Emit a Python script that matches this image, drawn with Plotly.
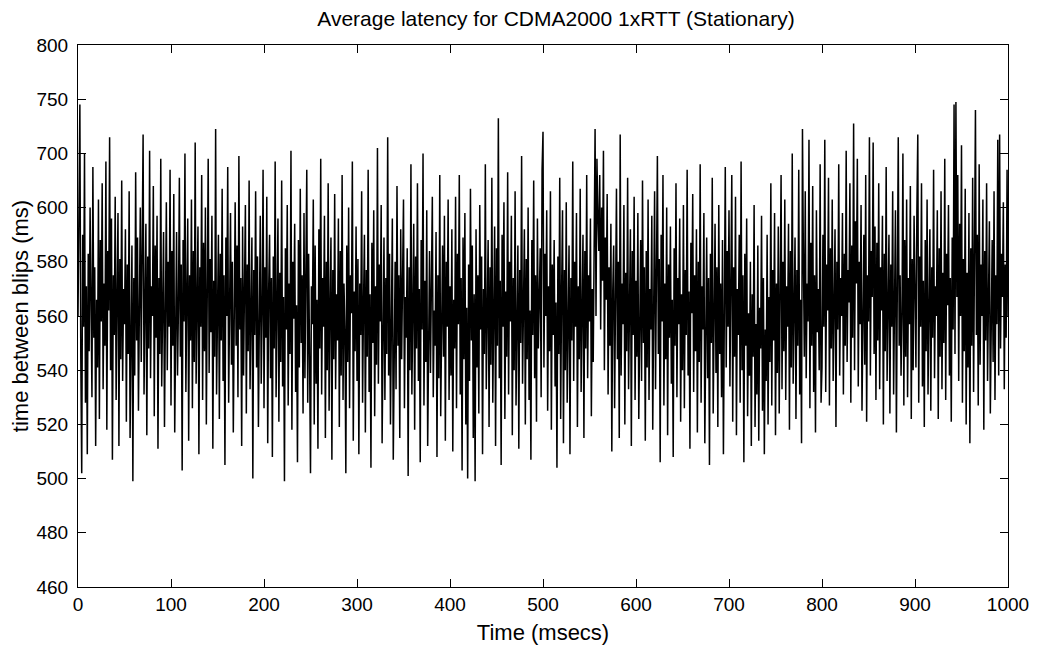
import plotly.graph_objects as go

# Latency samples (plotted in the axis' linear units; tick labels are relabelled as in the original)
latency = [
560, 612, 638, 545, 502, 590, 556, 620, 528, 571,
509, 583, 547, 600, 561, 530, 615, 552, 578, 512,
566, 541, 603, 522, 588, 558, 609, 533, 572, 549,
617, 518, 584, 562, 626, 540, 596, 507, 575, 553,
604, 529, 567, 598, 512, 581, 544, 610, 536, 570,
557, 592, 521, 579, 546, 606, 515, 563, 586, 499,
574, 538, 613, 551, 589, 525, 568, 600, 543, 577,
627, 531, 565, 594, 516, 582, 548, 621, 537, 571,
560, 608, 523, 586, 552, 597, 511, 574, 546, 618,
534, 569, 591, 519, 563, 602, 540, 580, 556, 614,
527, 584, 549, 605, 517, 572, 591, 538, 563, 611,
545, 579, 503, 588, 558, 620, 532, 567, 596, 514,
575, 551, 603, 526, 584, 543, 624, 535, 570, 593,
509, 578, 556, 612, 529, 587, 547, 600, 520, 566,
618, 539, 581, 554, 597, 511, 573, 545, 629, 531,
568, 590, 522, 583, 551, 607, 536, 575, 505, 589,
560, 615, 528, 571, 598, 542, 580, 517, 564, 602,
549, 586, 530, 619, 555, 574, 512, 593, 538, 568,
601, 524, 579, 547, 610, 533, 566, 589, 500, 577,
553, 606, 541, 582, 519, 570, 597, 535, 561, 614,
526, 578, 552, 604, 513, 569, 590, 537, 574, 508,
582, 548, 617, 530, 563, 596, 521, 576, 543, 610,
534, 567, 499, 585, 555, 601, 527, 572, 546, 621,
518, 580, 559, 594, 532, 564, 506, 588, 541, 607,
550, 575, 524, 598, 537, 569, 614, 528, 583, 545,
502, 571, 557, 603, 520, 586, 535, 566, 511, 592,
548, 618, 531, 574, 556, 597, 515, 580, 540, 609,
525, 563, 589, 507, 577, 544, 605, 533, 568, 551,
596, 519, 584, 538, 612, 529, 572, 555, 502, 586,
543, 600, 526, 575, 561, 617, 514, 569, 547, 593,
536, 581, 509, 572, 553, 606, 528, 564, 590, 517,
577, 545, 614, 532, 568, 504, 587, 550, 599, 523,
571, 542, 622, 535, 579, 558, 601, 513, 566, 589,
529, 574, 546, 626, 538, 583, 520, 569, 596, 507,
561, 580, 533, 608, 549, 575, 515, 592, 544, 571,
603, 526, 567, 552, 585, 501, 578, 540, 616, 531,
565, 594, 518, 582, 548, 609, 536, 570, 506, 588,
555, 620, 527, 573, 543, 599, 512, 566, 584, 539,
577, 604, 530, 562, 549, 591, 508, 575, 537, 612,
523, 569, 586, 545, 597, 514, 580, 556, 603, 529,
571, 538, 592, 510, 566, 548, 604, 526, 583, 557,
612, 531, 574, 503, 589, 544, 598, 520, 563, 500,
579, 536, 607, 551, 586, 515, 568, 499, 592, 541,
575, 524, 601, 555, 582, 509, 570, 546, 616, 533,
567, 588, 519, 578, 542, 611, 528, 564, 593, 512,
585, 549, 633, 537, 573, 505, 590, 556, 602, 522,
569, 545, 613, 531, 580, 558, 597, 516, 574, 540,
606, 527, 566, 586, 511, 577, 550, 619, 535, 571,
592, 520, 581, 544, 600, 529, 562, 507, 588, 553,
610, 537, 575, 521, 596, 548, 567, 585, 530, 614,
628, 541, 583, 560, 599, 525, 571, 547, 606, 518,
579, 553, 588, 534, 565, 504, 582, 546, 611, 522,
569, 599, 513, 577, 540, 602, 528, 563, 586, 509,
574, 551, 617, 536, 580, 556, 598, 519, 571, 544,
607, 532, 568, 590, 515, 584, 548, 612, 537, 575,
558, 596, 523, 570, 543, 603, 629, 560, 618, 597,
584, 612, 555, 600, 573, 621, 540, 589, 566, 605,
531, 578, 549, 594, 510, 569, 586, 526, 563, 607,
544, 580, 515, 627, 538, 572, 557, 601, 520, 576,
547, 611, 533, 567, 592, 512, 584, 553, 604, 529,
573, 545, 598, 522, 566, 588, 536, 610, 550, 578,
514, 584, 541, 603, 529, 570, 555, 597, 518, 575,
606, 533, 564, 619, 546, 581, 506, 590, 558, 612,
527, 572, 544, 600, 516, 579, 552, 593, 535, 566,
508, 585, 549, 609, 530, 574, 557, 596, 521, 568,
540, 601, 526, 577, 553, 614, 538, 569, 511, 587,
561, 605, 532, 575, 547, 592, 517, 580, 543, 616,
528, 571, 555, 598, 513, 566, 589, 537, 574, 505,
583, 550, 611, 524, 569, 594, 539, 578, 519, 601,
546, 572, 530, 588, 509, 563, 615, 541, 584, 556,
599, 534, 567, 612, 521, 578, 545, 604, 516, 570,
553, 590, 528, 617, 540, 575, 506, 583, 549, 596,
523, 561, 538, 580, 512, 568, 545, 601, 519, 557,
531, 586, 514, 563, 548, 597, 525, 574, 509, 555,
536, 590, 520, 567, 543, 609, 527, 577, 551, 598,
516, 572, 539, 593, 524, 565, 612, 533, 580, 547,
603, 529, 571, 556, 594, 518, 584, 541, 620, 535,
568, 589, 522, 577, 549, 614, 531, 566, 513, 629,
582, 545, 606, 537, 572, 558, 625, 526, 587, 549,
608, 532, 575, 517, 599, 554, 570, 540, 616, 528,
541, 590, 556, 625, 532, 579, 562, 611, 527, 585,
548, 603, 536, 571, 592, 519, 580, 555, 616, 538,
574, 560, 598, 531, 583, 549, 621, 543, 577, 565,
609, 528, 586, 552, 631, 540, 595, 572, 618, 534,
580, 557, 601, 525, 568, 590, 542, 612, 521, 575,
558, 626, 538, 584, 567, 624, 546, 593, 529, 587,
551, 609, 533, 578, 562, 597, 520, 583, 547, 615,
536, 572, 590, 524, 579, 556, 606, 531, 566, 599,
517, 584, 626, 549, 575, 538, 560, 620, 527, 588,
545, 603, 530, 574, 557, 608, 522, 581, 540, 597,
563, 541, 598, 627, 528, 582, 556, 609, 534, 573,
519, 588, 547, 603, 531, 569, 592, 525, 578, 552,
614, 537, 571, 560, 599, 522, 585, 545, 606, 533,
576, 550, 618, 529, 583, 564, 601, 538, 574, 521,
589, 555, 638, 546, 639, 567, 612, 536, 594, 560,
623, 528, 581, 547, 607, 520, 576, 541, 598, 513,
585, 549, 611, 532, 570, 636, 553, 590, 527, 616,
542, 579, 560, 603, 518, 584, 551, 609, 536, 572,
595, 524, 567, 588, 543, 606, 529, 575, 557, 625,
538, 627, 548, 583, 567, 602, 533, 579, 552, 614,
560,
]
time_ms = list(range(len(latency)))

x_ticks = [0, 100, 200, 300, 400, 500, 600, 700, 800, 900, 1000]
y_tick_pos = [460, 480, 500, 520, 540, 560, 580, 600, 620, 640, 660]
y_tick_text = ["460", "480", "500", "520", "540", "560", "580", "600", "700", "750", "800"]

FONT = "Liberation Sans, Arial, sans-serif"

fig = go.Figure()
fig.add_trace(go.Scatter(
    x=time_ms, y=latency, mode="lines",
    line=dict(color="black", width=1.5),
    showlegend=False, hoverinfo="skip",
))

axis_common = dict(
    showline=True, linecolor="black", linewidth=1, mirror="ticks",
    ticks="inside", ticklen=8, tickcolor="black", tickwidth=1,
    showgrid=False, zeroline=False, automargin=False,
    tickfont=dict(family=FONT, size=19, color="black"),
)

fig.update_layout(
    width=1063, height=658,
    paper_bgcolor="white", plot_bgcolor="white",
    margin=dict(l=70, r=63, t=37, b=79),
    title=dict(text="Average latency for CDMA2000 1xRTT (Stationary)",
               x=0.5155, xanchor="center", y=1 - 3 / 658, yanchor="top",
               font=dict(family=FONT, size=21, color="black")),
    xaxis=dict(range=[0, 1000], tickvals=x_ticks,
               title=dict(text="Time (msecs)", standoff=10,
                          font=dict(family=FONT, size=22, color="black")),
               **axis_common),
    yaxis=dict(range=[460, 660], tickvals=y_tick_pos, ticktext=y_tick_text,
               ticklabelstandoff=5,
               title=dict(text="time between blips (ms)", standoff=4,
                          font=dict(family=FONT, size=22, color="black")),
               **axis_common),
)

fig.write_html("out.html")
